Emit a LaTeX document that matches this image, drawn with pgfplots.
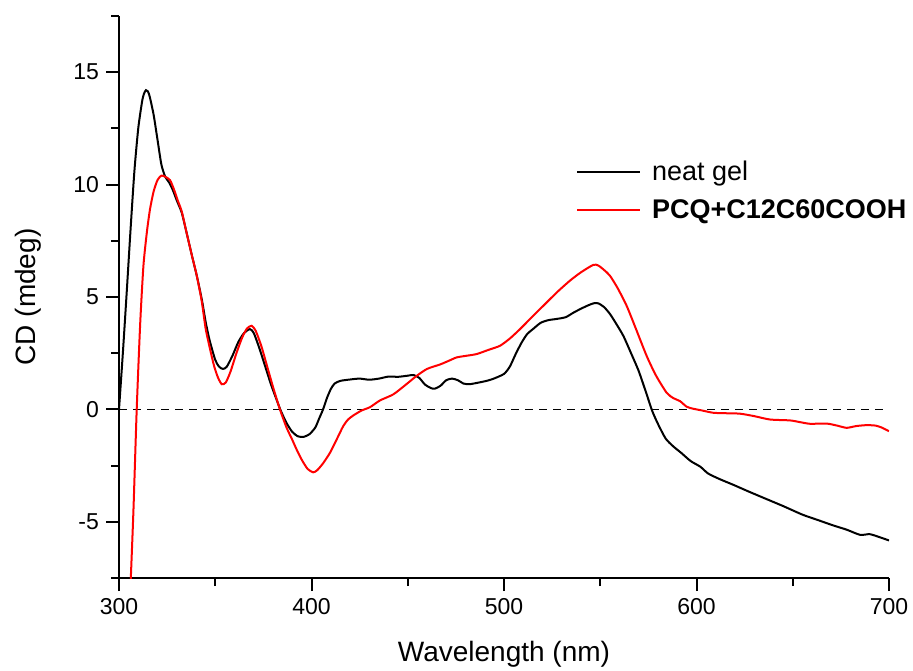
\documentclass[border=0pt]{standalone}
\usepackage{pgfplots}
\pgfplotsset{compat=1.18}
\usepackage{fontspec}
\setmainfont{Liberation Sans}
\begin{document}
\begin{tikzpicture}
\begin{axis}[
 scale only axis, width=385pt, height=281pt,
 xmin=300, xmax=700, ymin=-7.5, ymax=17.5,
 axis x line*=bottom, axis y line*=left,
 axis line style={line width=1pt,-},
 tick align=outside,
 xtick={300,400,500,600,700}, minor xtick={350,450,550,650},
 ytick={-5,0,5,10,15}, minor ytick={-7.5,-2.5,2.5,7.5,12.5,17.5},
 major tick length=6.5pt, minor tick length=4pt,
 every tick/.append style={black, line width=1pt},
 every minor tick/.append style={black, line width=1pt},
 tick label style={font=\fontsize{11.5}{13}\selectfont},
 /pgf/number format/assume math mode=true,
 xlabel={Wavelength (nm)}, ylabel={CD (mdeg)},
 label style={font=\fontsize{14}{16}\selectfont},
 xlabel style={yshift=-6.5pt},
 ylabel style={yshift=9pt},
 legend style={draw=none, fill=none, at={(axis cs:537.2,9.72)}, anchor=west,
   font=\fontsize{13.5}{16}\selectfont, row sep=4pt, inner sep=0pt,
   nodes={inner sep=2pt}},
 legend cell align=left,
 legend image code/.code={\draw[#1,line width=1pt] (0pt,0pt) -- (31.5pt,0pt); \path (35pt,0pt);},
]
\addplot[black, line width=0.8pt, dash pattern=on 4pt off 3pt, forget plot] coordinates {(300,0) (700,0)};
\addplot[black, line width=1pt, smooth, tension=0.4] coordinates {
(300,0) (302,2.5) (304,5.2) (306,8.0) (308,10.6) (310,12.5) (312,13.7) (313,14.05) (314,14.2) (315,14.15) (316,13.9) (318,13.1) (320,12.0) (322,10.9) (324,10.35) (326,10.1) (328,9.75) (330,9.3) (332.6,8.75) (335,7.9) (338,6.8) (340.4,5.95) (343,4.9) (345,3.9) (347,3.1) (350,2.2) (352,1.9) (354,1.8) (356,1.9) (359,2.4) (362,3.0) (365,3.4) (368,3.57) (370,3.4) (373,2.7) (376,1.9) (379,1.1) (382,0.4) (384,-0.05) (387,-0.6) (390,-1.0) (393,-1.2) (396,-1.22) (399,-1.1) (402,-0.8) (404,-0.4) (406,0) (408,0.5) (410,0.9) (412,1.15) (415,1.27) (420,1.33) (425,1.37) (430,1.32) (435,1.37) (440,1.46) (445,1.45) (450,1.5) (453,1.53) (456,1.4) (459,1.1) (462,0.95) (464,0.92) (467,1.05) (470,1.3) (473,1.37) (476,1.3) (479,1.15) (482,1.12) (486,1.18) (491,1.27) (495,1.38) (500,1.58) (503,1.9) (506,2.45) (509,2.95) (512,3.35) (515,3.57) (519,3.85) (523,3.97) (527,4.02) (532,4.1) (536,4.3) (540,4.48) (544,4.64) (547,4.73) (549,4.72) (552,4.55) (555,4.25) (558,3.85) (562,3.27) (566,2.5) (570,1.7) (574,0.7) (577,-0.07) (580,-0.65) (584,-1.3) (588,-1.65) (592,-1.93) (597,-2.3) (602,-2.55) (606,-2.85) (612,-3.1) (619,-3.35) (627,-3.65) (635,-3.94) (645,-4.3) (655,-4.68) (663,-4.92) (671,-5.16) (678,-5.35) (685,-5.58) (690,-5.55) (695,-5.68) (700,-5.83)
};
\addlegendentry{neat gel}
\addplot[red, line width=1pt, smooth, tension=0.4] coordinates {
(306,-7.8) (307.5,-4.5) (309.2,0) (311,3.8) (312.7,6.4) (314.5,7.9) (316.1,8.9) (318,9.7) (320,10.2) (322,10.4) (324,10.35) (326.5,10.2) (328.5,9.8) (330.5,9.3) (332.6,8.8) (335,7.9) (338,6.8) (340.4,5.95) (343,4.8) (345,3.6) (347.3,2.68) (349.5,1.9) (351.5,1.4) (353.4,1.12) (355.5,1.2) (358,1.7) (361,2.5) (364,3.2) (366.5,3.6) (368.9,3.72) (371,3.5) (374,2.8) (377,1.9) (380,1.0) (383.6,0) (387,-0.8) (390,-1.35) (392.3,-1.79) (395,-2.25) (398,-2.65) (400.9,-2.8) (403,-2.7) (406,-2.4) (409.6,-1.93) (413,-1.35) (416.5,-0.74) (419,-0.45) (421.7,-0.27) (426,-0.05) (430.4,0.1) (435.6,0.4) (442.5,0.67) (449,1.1) (454.6,1.49) (460,1.8) (466.8,2.0) (471,2.15) (475.3,2.31) (480,2.38) (485.7,2.46) (492,2.65) (497.9,2.83) (503,3.15) (508.3,3.57) (515,4.15) (522.2,4.76) (528,5.25) (534.3,5.73) (540,6.1) (546.4,6.43) (549,6.4) (552,6.2) (555,5.95) (559,5.4) (563.7,4.61) (568,3.7) (574.1,2.38) (579,1.5) (584.5,0.74) (588,0.5) (591.4,0.37) (594.9,0.12) (598.3,0.03) (603,-0.05) (608.7,-0.15) (615,-0.17) (622.6,-0.19) (630,-0.3) (638.2,-0.45) (648.6,-0.49) (654,-0.57) (659,-0.64) (667.6,-0.63) (673,-0.72) (678,-0.82) (683,-0.74) (688.4,-0.7) (693,-0.72) (696,-0.8) (700,-0.97)
};
\addlegendentry{\textbf{PCQ+C12C60COOH}}
\end{axis}
\pgfresetboundingbox
\path ([shift={(-59.5pt,-46pt)}]current axis.south west) rectangle ([shift={(12pt,8pt)}]current axis.north east);
\end{tikzpicture}
\end{document}
